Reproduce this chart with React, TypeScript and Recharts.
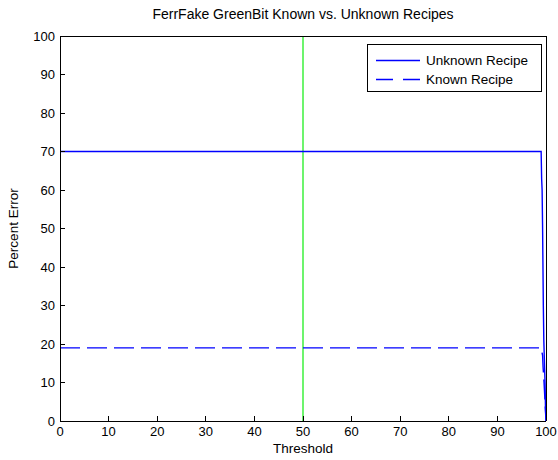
import React from 'react';
import { LineChart, Line, XAxis, YAxis, ReferenceLine, Legend, Label } from 'recharts';

// ---- data ----
const chartTitle = 'FerrFake GreenBit Known vs. Unknown Recipes';
const xAxisTitle = 'Threshold';
const yAxisTitle = 'Percent Error';
const seriesNames = ['Unknown Recipe', 'Known Recipe'];
const xTicks = [0, 10, 20, 30, 40, 50, 60, 70, 80, 90, 100];
const yTicks = [0, 10, 20, 30, 40, 50, 60, 70, 80, 90, 100];
const unknownThreshold = [0, 99, 99.1, 99.2, 99.3, 99.45, 99.55, 99.8, 99.9, 100];
const unknownError = [70, 70, 63, 60, 50, 30, 21, 10, 3, 0];
const knownThreshold = [0, 99, 99.3, 99.4, 99.6, 99.8, 100];
const knownError = [19, 19, 17, 14, 10, 5, 0];
const markerThreshold = 50;

const unknownData = unknownThreshold.map((t, i) => ({ threshold: t, error: unknownError[i] }));
const knownData = knownThreshold.map((t, i) => ({ threshold: t, error: knownError[i] }));

// ---- layout / style ----
const W = 558;
const H = 460;
const FONT = '"Liberation Sans", Arial, Helvetica, sans-serif';
const BLUE = '#0000ff';
const GREEN = '#3cf03c';
const SW = 1.4;

const TitleLabel = (props: any) => {
  const vb = props.viewBox || { x: 60, width: 486 };
  return (
    <text x={vb.x + vb.width / 2} y={19} textAnchor="middle" fontFamily={FONT} fontSize={14} fill="#000">
      {chartTitle}
    </text>
  );
};

const XTitleLabel = (props: any) => {
  const vb = props.viewBox || { x: 60, width: 486 };
  return (
    <text x={vb.x + vb.width / 2} y={453} textAnchor="middle" fontFamily={FONT} fontSize={13.5} fill="#000">
      {xAxisTitle}
    </text>
  );
};

const YTitleLabel = (props: any) => {
  const vb = props.viewBox || { y: 36, height: 385 };
  const cx = 13;
  const cy = vb.y + vb.height / 2;
  return (
    <text
      x={cx}
      y={cy}
      transform={`rotate(-90 ${cx} ${cy})`}
      textAnchor="middle"
      dominantBaseline="central"
      fontFamily={FONT}
      fontSize={13.5}
      fill="#000"
    >
      {yAxisTitle}
    </text>
  );
};

const LegendBox = () => (
  <div
    style={{
      width: 173,
      height: 46,
      border: '1px solid #000',
      background: '#fff',
      boxSizing: 'content-box',
    }}
  >
    <svg width={173} height={46} style={{ display: 'block' }}>
      <line x1={8} x2={52} y1={15.5} y2={15.5} stroke={BLUE} strokeWidth={SW} />
      <text x={58} y={15.5} dominantBaseline="central" fontFamily={FONT} fontSize={13.5} fill="#000">
        {seriesNames[0]}
      </text>
      <line x1={8} x2={52} y1={34.5} y2={34.5} stroke={BLUE} strokeWidth={SW} strokeDasharray="17 10" />
      <text x={58} y={34.5} dominantBaseline="central" fontFamily={FONT} fontSize={13.5} fill="#000">
        {seriesNames[1]}
      </text>
    </svg>
  </div>
);

const tickStyle = { fill: '#000', fontSize: 13, fontFamily: FONT };

export default function App() {
  return (
    <div style={{ position: 'absolute', left: 0, top: 0, width: W, height: H, background: '#fff' }}>
      <LineChart width={W} height={H} margin={{ top: 35, right: 11, bottom: 0, left: 0 }}>
        <XAxis
          xAxisId="bottom"
          dataKey="threshold"
          type="number"
          domain={[0, 100]}
          ticks={xTicks}
          interval={0}
          orientation="bottom"
          height={39}
          tickSize={-5}
          tickMargin={11}
          tick={tickStyle}
          axisLine={{ stroke: '#000', shapeRendering: 'crispEdges' }}
          tickLine={{ stroke: '#000', shapeRendering: 'crispEdges' }}
          allowDataOverflow
        >
          <Label content={XTitleLabel} />
        </XAxis>
        <XAxis
          xAxisId="top"
          type="number"
          domain={[0, 100]}
          ticks={xTicks}
          interval={0}
          orientation="top"
          height={1}
          tickSize={-5}
          tick={false}
          axisLine={{ stroke: '#000', shapeRendering: 'crispEdges' }}
          tickLine={{ stroke: '#000', shapeRendering: 'crispEdges' }}
          allowDataOverflow
        >
          <Label content={TitleLabel} />
        </XAxis>
        <YAxis
          yAxisId="left"
          type="number"
          domain={[0, 100]}
          ticks={yTicks}
          interval={0}
          orientation="left"
          width={60}
          tickSize={-5}
          tickMargin={10}
          tick={tickStyle}
          axisLine={{ stroke: '#000', shapeRendering: 'crispEdges' }}
          tickLine={{ stroke: '#000', shapeRendering: 'crispEdges' }}
          allowDataOverflow
        >
          <Label content={YTitleLabel} />
        </YAxis>
        <YAxis
          yAxisId="right"
          type="number"
          domain={[0, 100]}
          ticks={yTicks}
          interval={0}
          orientation="right"
          width={1}
          tickSize={-5}
          tick={false}
          axisLine={{ stroke: '#000', shapeRendering: 'crispEdges' }}
          tickLine={{ stroke: '#000', shapeRendering: 'crispEdges' }}
          allowDataOverflow
        />
        <ReferenceLine
          xAxisId="bottom"
          yAxisId="left"
          x={markerThreshold}
          stroke={GREEN}
          strokeWidth={1.5}
        />
        <Line
          xAxisId="bottom"
          yAxisId="left"
          data={unknownData}
          dataKey="error"
          name={seriesNames[0]}
          type="linear"
          stroke={BLUE}
          strokeWidth={SW}
          dot={false}
          activeDot={false}
          isAnimationActive={false}
        />
        <Line
          xAxisId="bottom"
          yAxisId="left"
          data={knownData}
          dataKey="error"
          name={seriesNames[1]}
          type="linear"
          stroke={BLUE}
          strokeWidth={SW}
          strokeDasharray="20 7"
          dot={false}
          activeDot={false}
          isAnimationActive={false}
        />
        <Legend
          layout="horizontal"
          verticalAlign="middle"
          align="center"
          content={LegendBox}
          wrapperStyle={{ position: 'absolute', left: 367, top: 44, width: 'auto', height: 'auto' }}
        />
      </LineChart>
    </div>
  );
}
